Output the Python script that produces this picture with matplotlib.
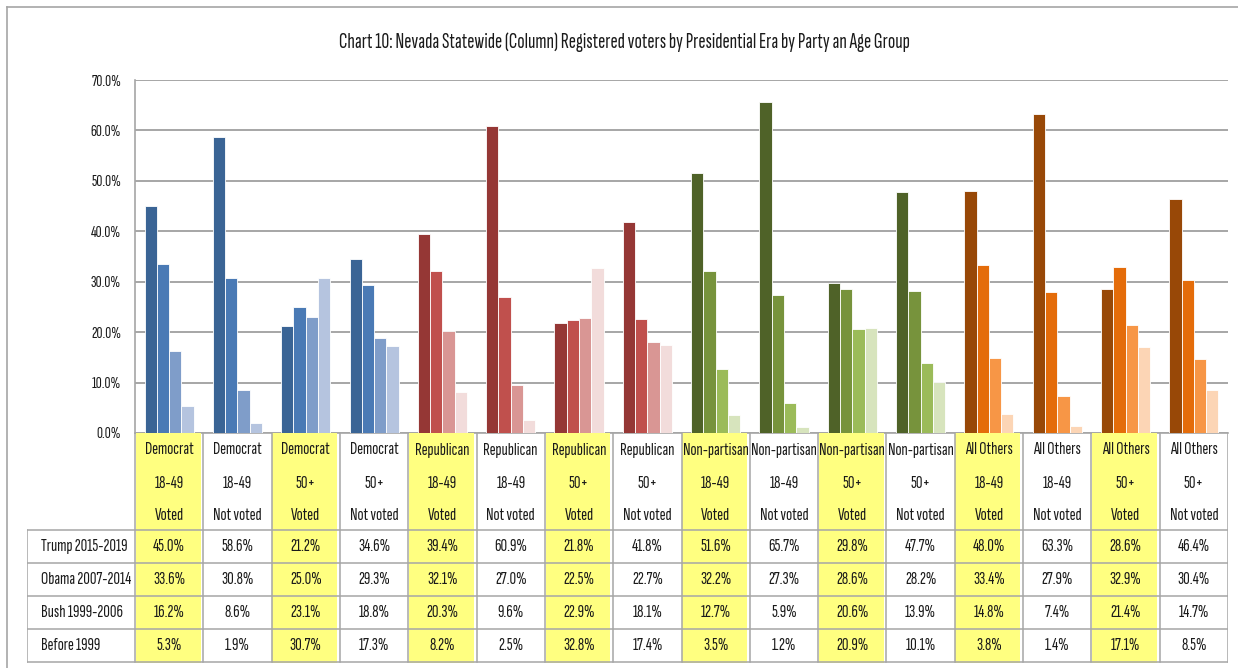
import numpy as np
import matplotlib
matplotlib.use("Agg")
import matplotlib.pyplot as plt
from matplotlib.patches import Rectangle
from matplotlib.lines import Line2D

# narrow Calibri-like look for all text
plt.rcParams['font.family'] = ['Sofia Sans Extra Condensed', 'Carlito', 'DejaVu Sans']

# -----------------------------
# Data
# -----------------------------
parties = ["Democrat"] * 4 + ["Republican"] * 4 + ["Non-partisan"] * 4 + ["All Others"] * 4
ages = ["18-49", "18-49", "50+", "50+"] * 4
status = ["Voted", "Not voted"] * 8

eras = ["Trump 2015-2019", "Obama 2007-2014", "Bush 1999-2006", "Before 1999"]

trump = [45.0, 58.6, 21.2, 34.6, 39.4, 60.9, 21.8, 41.8,
         51.6, 65.7, 29.8, 47.7, 48.0, 63.3, 28.6, 46.4]
obama = [33.6, 30.8, 25.0, 29.3, 32.1, 27.0, 22.5, 22.7,
         32.2, 27.3, 28.6, 28.2, 33.4, 27.9, 32.9, 30.4]
bush = [16.2, 8.6, 23.1, 18.8, 20.3, 9.6, 22.9, 18.1,
        12.7, 5.9, 20.6, 13.9, 14.8, 7.4, 21.4, 14.7]
before = [5.3, 1.9, 30.7, 17.3, 8.2, 2.5, 32.8, 17.4,
          3.5, 1.2, 20.9, 10.1, 3.8, 1.4, 17.1, 8.5]

series = [trump, obama, bush, before]

# one shade per era, dark -> light, per party
party_colors = {
    "Democrat": ["#3A6495", "#4A7AB5", "#7F9DC9", "#B5C4DF"],
    "Republican": ["#953735", "#C0504D", "#D99694", "#F2DCDB"],
    "Non-partisan": ["#4F6228", "#77933C", "#9BBB59", "#D7E4BD"],
    "All Others": ["#984807", "#E46C0A", "#F79646", "#FCD5B5"],
}

yellow = "#FFFF80"
grid_grey = "#A6A6A6"
text_col = "#1A1A1A"

# -----------------------------
# Figure / axes (pixel based layout)
# -----------------------------
W, H = 1238, 668
fig = plt.figure(figsize=(W / 100, H / 100), dpi=100)

left_px, right_px, top_px, bot_px = 135, 1228, 80, 433
ax = fig.add_axes([left_px / W, 1 - bot_px / H,
                   (right_px - left_px) / W, (bot_px - top_px) / H])

n = len(trump)
x = np.arange(n)
bw = 0.18
for k, vals in enumerate(series):
    cols = [party_colors[p][k] for p in parties]
    ax.bar(x + (k - 1.5) * bw, np.array(vals) / 100, width=bw,
           color=cols, edgecolor="white", linewidth=0.6, zorder=3)

ax.set_xlim(-0.5, n - 0.5)
ax.set_ylim(0, 0.7)
ax.set_yticks(np.arange(0, 0.71, 0.1))
ax.set_yticklabels([f"{v:.1f}%" for v in np.arange(0, 71, 10)], fontsize=12, color=text_col)
ax.set_xticks([])
ax.tick_params(axis="y", length=0, pad=10)
ax.grid(axis="y", color=grid_grey, linewidth=1.4, zorder=0)
for s in ["top", "right"]:
    ax.spines[s].set_visible(False)
for s in ["left", "bottom"]:
    ax.spines[s].set_color(grid_grey)
    ax.spines[s].set_linewidth(1.2)

# -----------------------------
# Data table under the chart
# -----------------------------
col_w = (right_px - left_px) / n
label_w = (left_px - 27) / col_w
tab_bot = 663
tax = fig.add_axes([27 / W, 1 - tab_bot / H, (right_px - 27) / W, (tab_bot - bot_px) / H])
tax.set_xlim(-0.5 - label_w, n - 0.5)
tax.set_ylim(tab_bot, bot_px)
tax.axis("off")

head_bot = 530
row_h = 33

for i in range(n):
    if status[i] == "Voted":
        tax.add_patch(Rectangle((i - 0.49, bot_px), 0.95, tab_bot - bot_px,
                                facecolor=yellow, edgecolor="none", zorder=0))

# grid lines of the table
line_kw = dict(color=grid_grey, linewidth=1.1, zorder=1)
tax.plot([-0.5 - label_w, n - 0.5], [head_bot, head_bot], **line_kw)
for r in range(1, 5):
    y = head_bot + r * row_h
    tax.plot([-0.5 - label_w, n - 0.5], [y, y], **line_kw)
tax.plot([-0.5 - label_w, -0.5 - label_w], [head_bot, head_bot + 4 * row_h], **line_kw)
for i in range(n + 1):
    tax.plot([i - 0.5, i - 0.5], [bot_px, head_bot + 4 * row_h], **line_kw)

txt_kw = dict(fontsize=13, color=text_col, ha="center", va="center", zorder=2)
for i in range(n):
    tax.text(i, 450, parties[i], **txt_kw)
    tax.text(i, 483, ages[i], **txt_kw)
    tax.text(i, 516, status[i], **txt_kw)
    for r, vals in enumerate(series):
        tax.text(i, head_bot + r * row_h + row_h / 2, f"{vals[i]:.1f}%", **txt_kw)

for r, era in enumerate(eras):
    tax.text(-0.5 - label_w + 14 / col_w, head_bot + r * row_h + row_h / 2, era,
             fontsize=13, color=text_col, ha="left", va="center")

# -----------------------------
# Title and outer border
# -----------------------------
fig.text(624.5 / W, 1 - 42 / H,
         "Chart 10: Nevada Statewide (Column) Registered voters by Presidential Era by Party an Age Group",
         ha="center", va="center", fontsize=15.5, color=text_col)

fig.add_artist(Line2D([7 / W, 1], [1 - 7 / H, 1 - 7 / H], color=grid_grey, linewidth=1.2))
fig.add_artist(Line2D([7 / W, 7 / W], [0, 1 - 7 / H], color=grid_grey, linewidth=1.2))

fig.savefig("out.png", dpi=100)
plt.close()
